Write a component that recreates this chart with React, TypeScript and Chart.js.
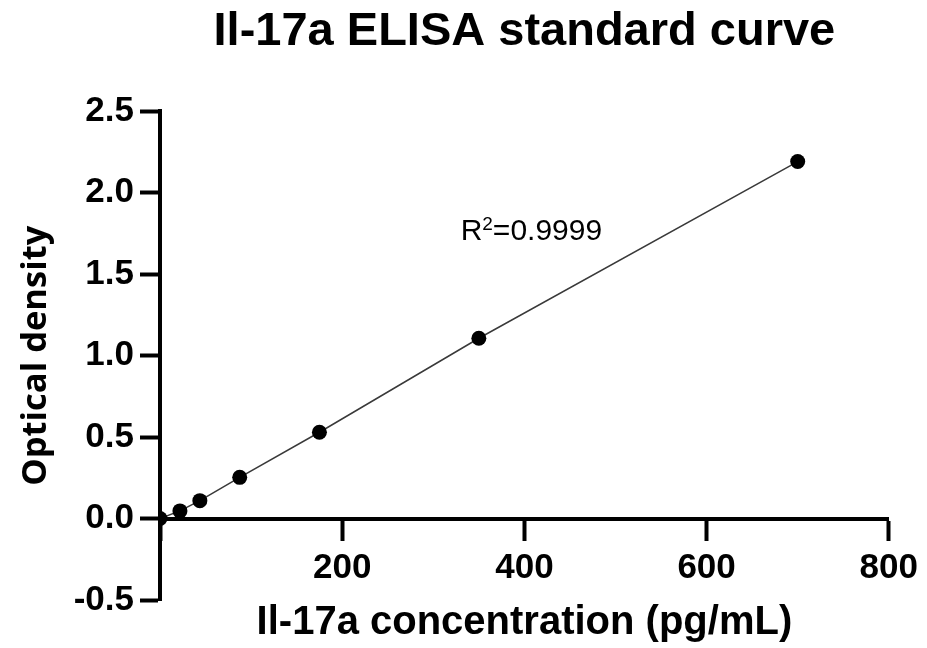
import { useEffect, useRef } from "react";
import { Chart, registerables } from "chart.js";

Chart.register(...registerables);

// Standard concentrations (pg/mL) and their measured optical density
const concentrations = [0, 21.875, 43.75, 87.5, 175, 350, 700];
const opticalDensity = [0, 0.047, 0.11, 0.253, 0.53, 1.107, 2.192];

// Axis ranges and tick steps
const xRange = [0, 800];
const xStep = 200;
const yRange = [-0.5, 2.5];
const yStep = 0.5;

const chartTitle = "Il-17a ELISA standard curve";
const xTitle = "Il-17a concentration (pg/mL)";
const yTitle = "Optical density";
const rSquared = "0.9999";
// where the R² note sits, in data units (left edge, baseline)
const rSquaredAt = [330, 1.71];

const ARIAL = '"Liberation Sans", Arial, Helvetica, sans-serif';

const rSquaredPlugin = {
  id: "rSquaredNote",
  afterDatasetsDraw(chart: any) {
    const { ctx, scales } = chart;
    const px = scales.x.getPixelForValue(rSquaredAt[0]);
    const py = scales.y.getPixelForValue(rSquaredAt[1]);
    ctx.save();
    ctx.fillStyle = "#000";
    ctx.textAlign = "left";
    ctx.textBaseline = "alphabetic";
    ctx.font = `30px ${ARIAL}`;
    ctx.fillText("R", px, py);
    let w = ctx.measureText("R").width;
    ctx.font = `19px ${ARIAL}`;
    ctx.fillText("2", px + w, py - 10);
    w += ctx.measureText("2").width;
    ctx.font = `30px ${ARIAL}`;
    ctx.fillText("=" + rSquared, px + w, py);
    ctx.restore();
  },
};

export default function App() {
  const canvasRef = useRef<HTMLCanvasElement | null>(null);

  useEffect(() => {
    document.body.style.margin = "0";
    const canvas = canvasRef.current;
    if (!canvas) return;
    const points = concentrations.map((c, i) => ({ x: c, y: opticalDensity[i] }));

    const chart = new Chart(canvas, {
      type: "scatter",
      data: {
        datasets: [
          {
            label: "Standards",
            data: points,
            showLine: true,
            borderColor: "#3a3a3a",
            borderWidth: 1.5,
            pointRadius: 7.5,
            pointHoverRadius: 7.5,
            pointBackgroundColor: "#000",
            pointBorderColor: "#000",
            pointBorderWidth: 0,
          },
        ],
      },
      options: {
        responsive: false,
        animation: false,
        devicePixelRatio: 1,
        layout: { padding: { left: 0, right: 35, top: 0, bottom: 48 } },
        plugins: {
          legend: { display: false },
          tooltip: { enabled: false },
          title: {
            display: true,
            text: chartTitle,
            fullSize: false,
            color: "#000",
            font: { family: ARIAL, size: 47, weight: "bold", lineHeight: 1.2 },
            padding: { top: 4, bottom: 51 },
          },
        },
        scales: {
          x: {
            type: "linear",
            position: { y: 0 } as any,
            min: xRange[0],
            max: xRange[1],
            ticks: {
              stepSize: xStep,
              color: "#000",
              padding: 9,
              font: { family: ARIAL, size: 35, weight: "bold" },
              callback: (v: any) => (Number(v) === 0 ? "" : String(v)),
            },
            grid: {
              display: true,
              drawOnChartArea: false,
              drawTicks: true,
              tickLength: 20,
              tickWidth: 4,
              tickColor: "#000",
            },
            border: { display: true, width: 4, color: "#000" },
            title: {
              display: true,
              text: xTitle,
              color: "#000",
              font: { family: ARIAL, size: 40, weight: "bold", lineHeight: 1.2 },
              padding: { top: 0, bottom: 0 },
            },
          },
          y: {
            type: "linear",
            position: "left",
            min: yRange[0],
            max: yRange[1],
            afterFit: (scale: any) => {
              scale.width = 160;
            },
            ticks: {
              stepSize: yStep,
              color: "#000",
              padding: 6,
              font: { family: ARIAL, size: 35, weight: "bold" },
              callback: (v: any) => Number(v).toFixed(1),
            },
            grid: {
              display: true,
              drawOnChartArea: false,
              drawTicks: true,
              tickLength: 20,
              tickWidth: 4,
              tickColor: "#000",
            },
            border: { display: true, width: 4, color: "#000" },
            title: {
              display: true,
              text: yTitle,
              color: "#000",
              font: { family: '"Open Sans", sans-serif', size: 34.5, weight: "bold", lineHeight: 1.2 },
              padding: { top: 15, bottom: 0 },
            },
          },
        },
      },
      plugins: [rSquaredPlugin],
    });

    return () => chart.destroy();
  }, []);

  return (
    <div style={{ position: "absolute", left: 0, top: 0, width: 927, height: 648, background: "#fff" }}>
      <canvas ref={canvasRef} width={927} height={648} />
    </div>
  );
}
